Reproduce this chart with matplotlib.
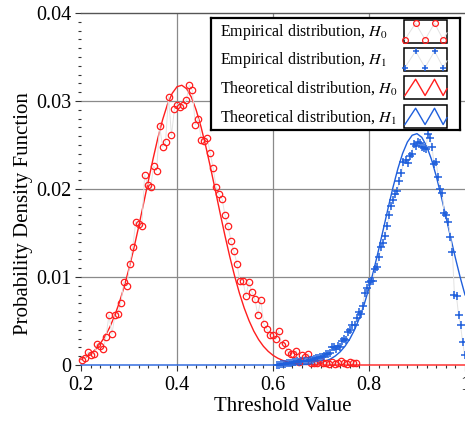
import numpy as np
import matplotlib.pyplot as plt
from matplotlib.ticker import MultipleLocator, FuncFormatter

plt.rcParams['font.family'] = 'Liberation Serif'
plt.rcParams['mathtext.fontset'] = 'stix'

RED = '#ff1e1e'
BLUE = '#1f5fdc'
FAINT = '#e2e2e2'

# empirical histograms: first bin centre, bin width, bin heights
h0_start, h0_step = 0.2025, 0.0062
h0_emp = [0.0006, 0.0008, 0.0015, 0.0011, 0.0013, 0.0024, 0.0022, 0.0018, 0.0032, 0.0057,
          0.0035, 0.0057, 0.0058, 0.0071, 0.0094, 0.0090, 0.0115, 0.0134, 0.0163, 0.0160,
          0.0158, 0.0216, 0.0205, 0.0202, 0.0226, 0.0221, 0.0272, 0.0248, 0.0253, 0.0305,
          0.0261, 0.0291, 0.0296, 0.0293, 0.0296, 0.0301, 0.0318, 0.0312, 0.0273, 0.0280,
          0.0256, 0.0254, 0.0258, 0.0241, 0.0224, 0.0202, 0.0194, 0.0189, 0.0170, 0.0158,
          0.0141, 0.0129, 0.0115, 0.0096, 0.0096, 0.0078, 0.0094, 0.0083, 0.0075, 0.0057,
          0.0074, 0.0047, 0.0041, 0.0034, 0.0034, 0.0029, 0.0039, 0.0023, 0.0025, 0.0015,
          0.0013, 0.0013, 0.0016, 0.0003, 0.0011, 0.0009, 0.0013, 0.0002, 0.0002, 0.0002,
          0.0006, 0.0002, 0.0002, 0.0001, 0.0003, 0.0001, 0.0002, 0.0004, 0.0002, 0.0001,
          0.0003, 0.0002, 0.0002]

h1_start, h1_step = 0.6083, 0.00425
h1_emp = [0.0000, 0.0000, 0.0001, 0.0001, 0.0001, 0.0002, 0.0002, 0.0002, 0.0003,
          0.0003, 0.0004, 0.0003, 0.0004, 0.0005, 0.0004, 0.0005,
          0.0006, 0.0006, 0.0007, 0.0008, 0.0008, 0.0009, 0.0009, 0.0010, 0.0013, 0.0013, 0.0014,
          0.0020, 0.0020, 0.0018, 0.0022, 0.0021, 0.0027, 0.0030, 0.0028, 0.0038, 0.0040,
          0.0045, 0.0046, 0.0053, 0.0060, 0.0058, 0.0067,
          0.0082, 0.0088, 0.0094, 0.0095, 0.0095, 0.0109, 0.0111, 0.0123, 0.0134, 0.0139,
          0.0147, 0.0158, 0.0170, 0.0181, 0.0187, 0.0194, 0.0198, 0.0209, 0.0218, 0.0231,
          0.0233, 0.0230, 0.0237, 0.0240,
          0.0251, 0.0249, 0.0253, 0.0252, 0.0248, 0.0247, 0.0246, 0.0263, 0.0258, 0.0248,
          0.0228, 0.0231,
          0.0214, 0.0200, 0.0195, 0.0173, 0.0170, 0.0162, 0.0146, 0.0128, 0.0079, 0.0078,
          0.0057, 0.0045, 0.0026, 0.0011]

# theoretical densities sampled every 0.01 from 0.20 to 1.00
theory_x = np.round(np.arange(0.20, 1.001, 0.01), 2)
h0_theory = [0.00061, 0.00089, 0.00126, 0.00176, 0.00242, 0.00326, 0.00430, 0.00559, 0.00712, 0.00892,
             0.01096, 0.01323, 0.01568, 0.01825, 0.02085, 0.02339, 0.02577, 0.02787, 0.02960, 0.03087,
             0.03162, 0.03179, 0.03139, 0.03043, 0.02896, 0.02707, 0.02484, 0.02239, 0.01981, 0.01721,
             0.01468, 0.01230, 0.01012, 0.00817, 0.00648, 0.00505, 0.00385, 0.00289, 0.00213, 0.00155,
             0.00110, 0.00077, 0.00053, 0.00035, 0.00023, 0.00015, 0.00010, 0.00006, 0.00004, 0.00002,
             0.00001] + [0.0] * 30
h1_theory = [0.0] * 38 + [
             0.0, 0.0, 0.0, 0.0, 0.0, 0.00001, 0.00001, 0.00002, 0.00004, 0.00007,
             0.00011, 0.00018, 0.00029, 0.00046, 0.00069, 0.00103, 0.00150, 0.00213, 0.00296, 0.00401,
             0.00532, 0.00690, 0.00873, 0.01081, 0.01308, 0.01547, 0.01788, 0.02019, 0.02228, 0.02404,
             0.02534, 0.02611, 0.02629, 0.02587, 0.02488, 0.02338, 0.02148, 0.01928, 0.01692, 0.01451,
             0.01216, 0.00996, 0.00797]

labels = ['Empirical distribution, $H_0$', 'Empirical distribution, $H_1$',
          'Theoretical distribution, $H_0$', 'Theoretical distribution, $H_1$']

h0_x = h0_start + h0_step * np.arange(len(h0_emp))
h1_x = h1_start + h1_step * np.arange(len(h1_emp))

fig = plt.figure(figsize=(4.65, 4.25), dpi=100)
ax = fig.add_axes([81 / 465, 60 / 425, 384 / 465, 352 / 425])

for gx in [0.4, 0.6, 0.8]:
    ax.axvline(gx, color='#8a8a8a', lw=0.9, zorder=1)
for gy in [0.01, 0.02, 0.03]:
    ax.axhline(gy, color='#8a8a8a', lw=0.9, zorder=1)

ax.plot(theory_x, h0_theory, color=RED, lw=1.0, clip_on=False, zorder=3)
ax.plot(theory_x, h1_theory, color=BLUE, lw=1.0, clip_on=False, zorder=3)
ax.plot(h0_x, h0_emp, color=FAINT, lw=0.7, marker='o', ms=4.6, mfc='none',
        mec=RED, mew=0.9, clip_on=False, zorder=4)
ax.plot(h1_x, h1_emp, color=FAINT, lw=0.7, marker='+', ms=5.5,
        mec=BLUE, mew=1.1, clip_on=False, zorder=4)

ax.set_xlim(0.2, 1.0)
ax.set_ylim(0, 0.04)
ax.xaxis.set_major_locator(MultipleLocator(0.2))
ax.xaxis.set_minor_locator(MultipleLocator(0.02))
ax.yaxis.set_major_locator(MultipleLocator(0.01))
ax.yaxis.set_minor_locator(MultipleLocator(0.001))
fmt = FuncFormatter(lambda v, p: f'{v:g}')
ax.xaxis.set_major_formatter(fmt)
ax.yaxis.set_major_formatter(fmt)

for side in ['left', 'right', 'bottom']:
    ax.spines[side].set_visible(False)
ax.spines['top'].set_color('#555555')
ax.spines['top'].set_linewidth(1.0)

ax.tick_params(which='major', direction='out', length=4, width=0.8, color='#333333',
               labelsize=14.5, pad=3)
ax.tick_params(which='minor', direction='out', length=2.2, width=0.8, color='#333333')
ax.tick_params(axis='x', which='both', pad=4)

ax.set_xlabel('Threshold Value', fontsize=15)
ax.set_ylabel('Probability Density Function', fontsize=15)
ax.xaxis.set_label_coords(0.525, -0.092)
ax.yaxis.set_label_coords(-0.125, 0.43)

# legend box drawn by hand: text on the left, zigzag sample on the right
leg = fig.add_axes([211 / 465, 1 - 130 / 425, 249 / 465, 112 / 425])
leg.set_xlim(0, 249)
leg.set_ylim(112, 0)
leg.set_xticks([])
leg.set_yticks([])
leg.set_facecolor('white')
for s in leg.spines.values():
    s.set_color('black')
    s.set_linewidth(1.6)

row_tops = [2, 30, 58, 87]
box_x, box_w, box_h = 193, 43, 23
zig_fx = np.array([0.02, 0.27, 0.49, 0.71, 0.91, 1.0])
zig_fy = np.array([0.15, 0.86, 0.15, 0.86, 0.15, 0.45])
styles = [dict(color=FAINT, lw=0.7, marker='o', ms=4.2, mfc='none', mec=RED, mew=0.9, markevery=[0, 1, 2, 3, 4]),
          dict(color=FAINT, lw=0.7, marker='+', ms=5.0, mec=BLUE, mew=1.1, markevery=[0, 1, 2, 3, 4]),
          dict(color=RED, lw=1.0),
          dict(color=BLUE, lw=1.0)]
for top, text, st in zip(row_tops, labels, styles):
    leg.add_patch(plt.Rectangle((box_x, top), box_w, box_h, fill=False,
                                edgecolor='black', lw=1.1))
    leg.plot(box_x + box_w * zig_fx, top + box_h * (1 - zig_fy), clip_on=False, **st)
    leg.text(9, top + box_h / 2 + 1, text, fontsize=11.5, va='center', ha='left')

fig.savefig('out.png', dpi=100)
